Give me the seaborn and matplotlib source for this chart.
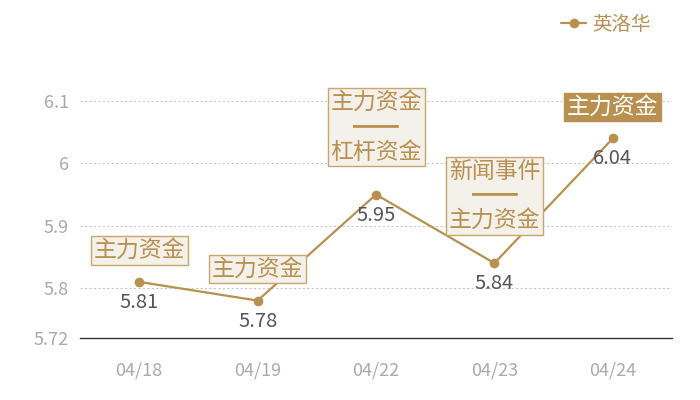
import matplotlib
matplotlib.use("Agg")
import matplotlib.pyplot as plt
import seaborn as sns
import pandas as pd

dates = ["04/18", "04/19", "04/22", "04/23", "04/24"]
prices = [5.81, 5.78, 5.95, 5.84, 6.04]
tags = ["主力资金", "主力资金", "主力资金\n━━\n杠杆资金", "新闻事件\n━━\n主力资金", "主力资金"]
highlight = [False, False, False, False, True]
y_ticks = [5.72, 5.8, 5.9, 6, 6.1]
y_tick_labels = ["5.72", "5.8", "5.9", "6", "6.1"]
series_name = "英洛华"

gold = "#b8904f"
df = pd.DataFrame({"date": dates, "price": prices, "stock": series_name})

sns.set_theme(style="white")
plt.rcParams["font.family"] = ["Noto Sans CJK SC", "DejaVu Sans"]

fig = plt.figure(figsize=(7, 4), dpi=100)
ax = fig.add_axes([80 / 700, 62 / 400, 592 / 700, 275 / 400])

sns.lineplot(data=df, x="date", y="price", hue="stock", palette=[gold],
             marker="o", markersize=7, markeredgewidth=0, linewidth=1.6, ax=ax)

ax.set_xlim(-0.5, 4.5)
ax.set_ylim(5.72, 6.161)
ax.set_yticks(y_ticks)
ax.set_yticklabels(y_tick_labels)
ax.set_xlabel("")
ax.set_ylabel("")

for y in y_ticks[1:]:
    ax.axhline(y, color="#c8c8c8", linestyle=(0, (2, 2)), linewidth=0.8, zorder=0)

for s in ["top", "right", "left"]:
    ax.spines[s].set_visible(False)
ax.spines["bottom"].set_color("#333333")
ax.spines["bottom"].set_linewidth(1.0)
ax.tick_params(axis="both", length=0, colors="#aaaaaa", labelsize=13)
ax.tick_params(axis="x", pad=17)
ax.tick_params(axis="y", pad=8)

# value labels under points
for i, v in enumerate(prices):
    ax.annotate(f"{v:g}", (i, v), xytext=(0, -10), textcoords="offset pixels",
                ha="center", va="top", fontsize=14.5, color="#555555")

# tag boxes above points
for i, (v, t, hl) in enumerate(zip(prices, tags, highlight)):
    gap = 28 if "\n" in t else 17
    if hl:
        box = dict(boxstyle="square,pad=0.12", facecolor=gold, edgecolor=gold, linewidth=1)
        tc = "white"
    else:
        box = dict(boxstyle="square,pad=0.12", facecolor="#f4f0ea", edgecolor="#c9a66b", linewidth=1)
        tc = gold
    ax.annotate(t, (i, v), xytext=(0, gap + 3), textcoords="offset pixels",
                ha="center", va="bottom", fontsize=16.5, color=tc, bbox=box,
                linespacing=1.1, multialignment="center", zorder=5)

ax.legend(loc="upper right", bbox_to_anchor=(668 / 700, 1.008), bbox_transform=fig.transFigure,
          frameon=False, fontsize=14, handlelength=1.3, handletextpad=0.3,
          labelcolor=gold)

fig.savefig("out.png", dpi=100)
